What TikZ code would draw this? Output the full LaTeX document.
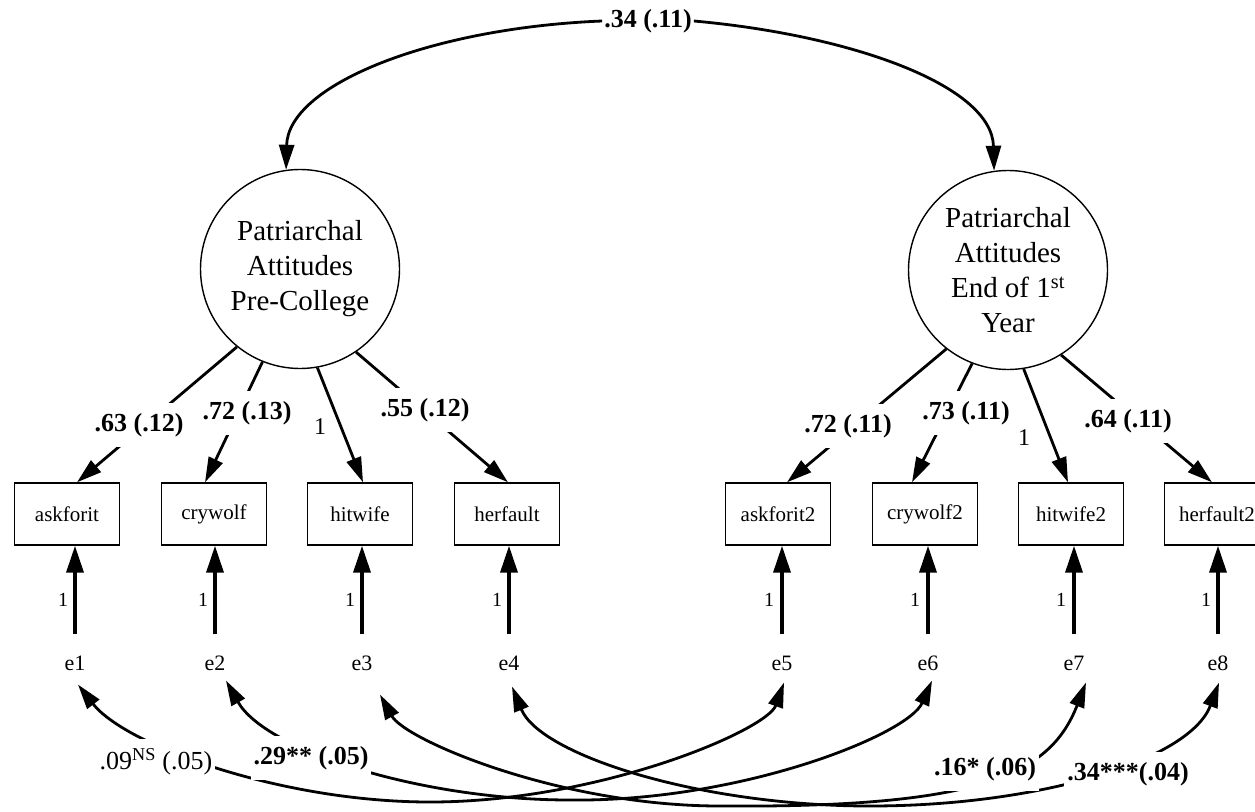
\documentclass[tikz,border=0pt]{standalone}
\usepackage{fontspec}
\setmainfont{Liberation Serif}
\usetikzlibrary{arrows.meta}
\begin{document}
\begin{tikzpicture}[x=1pt,y=-1pt,
  latent/.style={circle,draw,line width=1.4pt,minimum size=199pt,inner sep=0pt,
    align=center,font=\fontsize{29}{35}\selectfont},
  obs/.style={rectangle,draw,line width=1.4pt,minimum width=105pt,minimum height=62pt,
    inner sep=0pt,font=\fontsize{21}{25}\selectfont},
  err/.style={inner sep=2pt,font=\fontsize{22}{26}\selectfont},
  head/.tip={Triangle[length=25pt,width=15pt]},
  regarrow/.style={line width=2.8pt,-head},
  errarrow/.style={line width=3.6pt,-{Triangle[length=27pt,width=17pt]}},
  covone/.style={line width=2.8pt,-head},
  covtwo/.style={line width=2.8pt,head-head},
  est/.style={fill=white,inner xsep=3pt,inner ysep=10pt,font=\bfseries\fontsize{26}{30}\selectfont},
  estplain/.style={fill=white,inner xsep=3pt,inner ysep=10pt,font=\fontsize{26}{30}\selectfont},
  fixone/.style={inner sep=1pt,font=\fontsize{24}{28}\selectfont},
  errone/.style={inner sep=1pt,font=\fontsize{20}{24}\selectfont}
]
\fill[white] (0,0) rectangle (1255,811);
\useasboundingbox (0,0) rectangle (1255,811);
\clip (0,0) rectangle (1255,811);

% latent factors
\node[latent] (pa) at (300,269) {Patriarchal\\Attitudes\\Pre-College};
\node[latent] (pb) at (1008,270) {Patriarchal\\Attitudes\\End of 1\textsuperscript{st}\\Year};

% indicators
\node[obs] (askforit)  at (67,514)   {askforit};
\node[obs] (crywolf)   at (214,514)  {crywolf};
\node[obs] (hitwife)   at (360,514)  {hitwife};
\node[obs] (herfault)  at (507,514)  {herfault};
\node[obs] (askforit2) at (778,514)  {askforit2};
\node[obs] (crywolf2)  at (925,514)  {crywolf2};
\node[obs] (hitwife2)  at (1071,514) {hitwife2};
\node[obs] (herfault2) at (1217,514) {herfault2};

% error terms
\node[err] (e1) at (75,663)   {e1};
\node[err] (e2) at (215,663)  {e2};
\node[err] (e3) at (362,663)  {e3};
\node[err] (e4) at (509,663)  {e4};
\node[err] (e5) at (782,663)  {e5};
\node[err] (e6) at (928,663)  {e6};
\node[err] (e7) at (1074,663) {e7};
\node[err] (e8) at (1218,663) {e8};

% error paths
\foreach \e/\v in {e1/askforit,e2/crywolf,e3/hitwife,e4/herfault,
                   e5/askforit2,e6/crywolf2,e7/hitwife2,e8/herfault2}{
  \draw[errarrow,shorten <=19pt] (\e.north) -- (\e.north |- \v.south);
}
\node[errone] (f1) at (63,600)   {1};
\node[errone] (f2) at (203,600)  {1};
\node[errone] (f3) at (350,600)  {1};
\node[errone] (f4) at (497,600)  {1};
\node[errone] (f5) at (769,600)  {1};
\node[errone] (f6) at (915,600)  {1};
\node[errone] (f7) at (1061,600) {1};
\node[errone] (f8) at (1206,600) {1};

% factor loadings, first wave
\draw[regarrow] (pa.231) -- ([xshift=10pt]askforit.north);
\draw[regarrow] (pa.248) -- ([xshift=-9pt]crywolf.north);
\draw[regarrow] (pa.280) -- ([xshift=3pt]hitwife.north);
\draw[regarrow] (pa.304) -- ([xshift=1pt]herfault.north);
\node[est] (l1) at (139,425) {.63 (.12)};
\node[est] (l2) at (247,413) {.72 (.13)};
\node[fixone] (l3) at (320,427) {1};
\node[est] (l4) at (425,410) {.55 (.12)};

% factor loadings, second wave
\draw[regarrow] (pb.232) -- ([xshift=9pt]askforit2.north);
\draw[regarrow] (pb.249) -- ([xshift=-13pt]crywolf2.north);
\draw[regarrow] (pb.279) -- ([xshift=-3pt]hitwife2.north);
\draw[regarrow] (pb.302) -- ([xshift=-5pt]herfault2.north);
\node[est] (m1) at (848,426)  {.72 (.11)};
\node[est] (m2) at (966,413)  {.73 (.11)};
\node[fixone] (m3) at (1024,438) {1};
\node[est] (m4) at (1128,421) {.64 (.11)};

% factor covariance
\node[font=\bfseries\fontsize{26}{30}\selectfont,inner sep=2pt] (c0) at (648,21) {.34 (.11)};
\draw[covone] (c0.west) .. controls (430,28) and (288,85) .. (pa.98);
\draw[covone] (c0.east) .. controls (850,35) and (992,85) .. (pb.98);

% error covariances
\draw[covtwo] ([xshift=3pt,yshift=-12pt]e1.south)
  .. controls (125,745) and (280,802) .. (430,802)
  .. controls (600,802) and (767,730) .. ([xshift=2pt,yshift=-10pt]e5.south);
\draw[covtwo] ([xshift=11pt,yshift=-8pt]e2.south)
  .. controls (265,750) and (420,800) .. (570,800)
  .. controls (740,802) and (908,735) .. ([xshift=4pt,yshift=-8pt]e6.south);
\draw[covtwo] ([xshift=18pt,yshift=-22pt]e3.south)
  .. controls (405,740) and (560,806) .. (720,806)
  .. controls (980,808) and (1050,775) .. ([xshift=12pt,yshift=-10pt]e7.south);
\draw[covtwo] ([xshift=3pt,yshift=-14pt]e4.south)
  .. controls (540,755) and (700,806) .. (870,806)
  .. controls (1040,806) and (1190,760) .. ([xshift=1pt,yshift=-10pt]e8.south);

\node[estplain] (k1) at (156,762) {.09\textsuperscript{NS} (.05)};
\node[est] (k2) at (311,758) {.29** (.05)};
\node[est] (k3) at (985,769) {.16* (.06)};
\node[est] (k4) at (1128,774) {.34***(.04)};
\end{tikzpicture}
\end{document}
